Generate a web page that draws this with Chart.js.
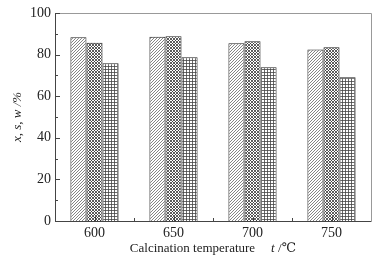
<!DOCTYPE html>
<html>
<head>
<meta charset="utf-8">
<script src="https://cdn.jsdelivr.net/npm/chart.js@4"></script>
<style>
  html, body { margin: 0; padding: 0; background: #fff; }
  #wrap { width: 390px; height: 263px; }
</style>
</head>
<body>
<div id="wrap"><canvas id="chart" width="390" height="263"></canvas></div>
<script>
// categories and values
const temperatures = ["600", "650", "700", "750"];
const xValues = [88.3, 88.6, 85.4, 82.5];
const sValues = [85.7, 88.8, 86.4, 83.5];
const wValues = [75.8, 78.7, 73.9, 69.1];
const yTicks = [0, 20, 40, 60, 80, 100];

const serif = "'Liberation Serif', 'DejaVu Serif', serif";

// fill patterns for the three series
function makePattern(kind) {
  const c = document.createElement('canvas');
  const s = 3;
  c.width = s; c.height = s;
  const g = c.getContext('2d');
  g.fillStyle = '#fff';
  g.fillRect(0, 0, s, s);
  g.strokeStyle = '#555';
  g.lineWidth = 0.8;
  if (kind === 'hatch') {
    g.strokeStyle = '#666';
    g.beginPath();
    g.moveTo(0, s); g.lineTo(s, 0);
    g.moveTo(-1, 1); g.lineTo(1, -1);
    g.moveTo(s - 1, s + 1); g.lineTo(s + 1, s - 1);
    g.stroke();
  } else if (kind === 'cross') {
    g.strokeStyle = '#333';
    g.beginPath();
    g.moveTo(0, 0); g.lineTo(s, s);
    g.moveTo(0, s); g.lineTo(s, 0);
    g.stroke();
  } else {
    g.strokeStyle = '#444';
    g.beginPath();
    g.moveTo(0, 0.5); g.lineTo(s, 0.5);
    g.moveTo(0.5, 0); g.lineTo(0.5, s);
    g.stroke();
  }
  return g.createPattern(c, 'repeat');
}

const ctx = document.getElementById('chart').getContext('2d');

const framePlugin = {
  id: 'frame',
  afterDraw(chart) {
    const { ctx, chartArea: a, scales } = chart;
    const y = scales.y, x = scales.x;
    ctx.save();
    // top and right borders (gray)
    ctx.strokeStyle = '#999';
    ctx.lineWidth = 1;
    ctx.beginPath();
    ctx.moveTo(a.left, a.top + 0.5); ctx.lineTo(a.right + 0.5, a.top + 0.5);
    ctx.lineTo(a.right + 0.5, a.bottom);
    ctx.stroke();
    // left and bottom axes
    ctx.strokeStyle = '#444';
    ctx.beginPath();
    ctx.moveTo(a.left + 0.5, a.top); ctx.lineTo(a.left + 0.5, a.bottom + 0.5);
    ctx.lineTo(a.right + 0.5, a.bottom + 0.5);
    ctx.stroke();
    // inward ticks on y axis
    for (let v = 0; v <= 100; v += 10) {
      const py = Math.round(y.getPixelForValue(v)) + 0.5;
      ctx.beginPath();
      ctx.moveTo(a.left, py); ctx.lineTo(a.left + (v % 20 === 0 ? 5 : 3), py);
      ctx.stroke();
    }
    // inward ticks on x axis: centres and boundaries
    for (let i = 0; i < temperatures.length; i++) {
      const px = Math.round(x.getPixelForValue(i)) + 0.5;
      ctx.beginPath();
      ctx.moveTo(px, a.bottom); ctx.lineTo(px, a.bottom - 4);
      ctx.stroke();
      if (i > 0) {
        const bx = Math.round((x.getPixelForValue(i) + x.getPixelForValue(i - 1)) / 2) + 0.5;
        ctx.beginPath();
        ctx.moveTo(bx, a.bottom); ctx.lineTo(bx, a.bottom - 3);
        ctx.stroke();
      }
    }
    // x axis title with italic symbol
    ctx.fillStyle = '#222';
    ctx.textBaseline = 'middle';
    ctx.textAlign = 'left';
    const ty = 249;
    const fs = 13;
    ctx.font = fs + 'px ' + serif;
    const part1 = 'Calcination temperature';
    const w1 = ctx.measureText(part1).width;
    ctx.font = 'italic ' + fs + 'px ' + serif;
    const part2 = 't';
    const w2 = ctx.measureText(part2).width;
    ctx.font = fs + 'px ' + serif;
    const part3 = ' /℃';
    const w3 = ctx.measureText(part3).width;
    const gap = 16;
    let sx = (a.left + a.right) / 2 - (w1 + gap + w2 + w3) / 2;
    ctx.fillText(part1, sx, ty);
    sx += w1 + gap;
    ctx.font = 'italic ' + fs + 'px ' + serif;
    ctx.fillText(part2, sx, ty);
    sx += w2;
    ctx.font = fs + 'px ' + serif;
    ctx.fillText(part3, sx, ty);
    ctx.restore();
  }
};

const commonDs = { borderColor: '#222', borderWidth: 1, borderSkipped: 'bottom', categoryPercentage: 0.61, barPercentage: 1 };

new Chart(ctx, {
  type: 'bar',
  data: {
    labels: temperatures,
    datasets: [
      Object.assign({ label: 'x', data: xValues, backgroundColor: makePattern('hatch') }, commonDs),
      Object.assign({ label: 's', data: sValues, backgroundColor: makePattern('cross') }, commonDs),
      Object.assign({ label: 'w', data: wValues, backgroundColor: makePattern('grid') }, commonDs)
    ]
  },
  options: {
    responsive: false,
    animation: false,
    layout: { padding: { left: 0, right: 19, top: 13, bottom: 0 } },
    plugins: { legend: { display: false }, tooltip: { enabled: false } },
    scales: {
      x: {
        grid: { display: false, drawTicks: false },
        border: { display: false },
        ticks: { color: '#222', font: { family: serif, size: 14 }, padding: 4 },
        afterFit(s) { s.height = 42; }
      },
      y: {
        min: 0, max: 100,
        afterBuildTicks(s) { s.ticks = yTicks.map(v => ({ value: v })); },
        grid: { display: false, drawTicks: false },
        border: { display: false },
        ticks: { color: '#222', font: { family: serif, size: 14 }, padding: 4 },
        title: { display: true, text: 'x, s, w /%', color: '#222', font: { family: serif, size: 13, style: 'italic' }, padding: { top: 10, bottom: 4 } },
        afterFit(s) { s.width = 55; }
      }
    }
  },
  plugins: [framePlugin]
});
</script>
</body>
</html>
